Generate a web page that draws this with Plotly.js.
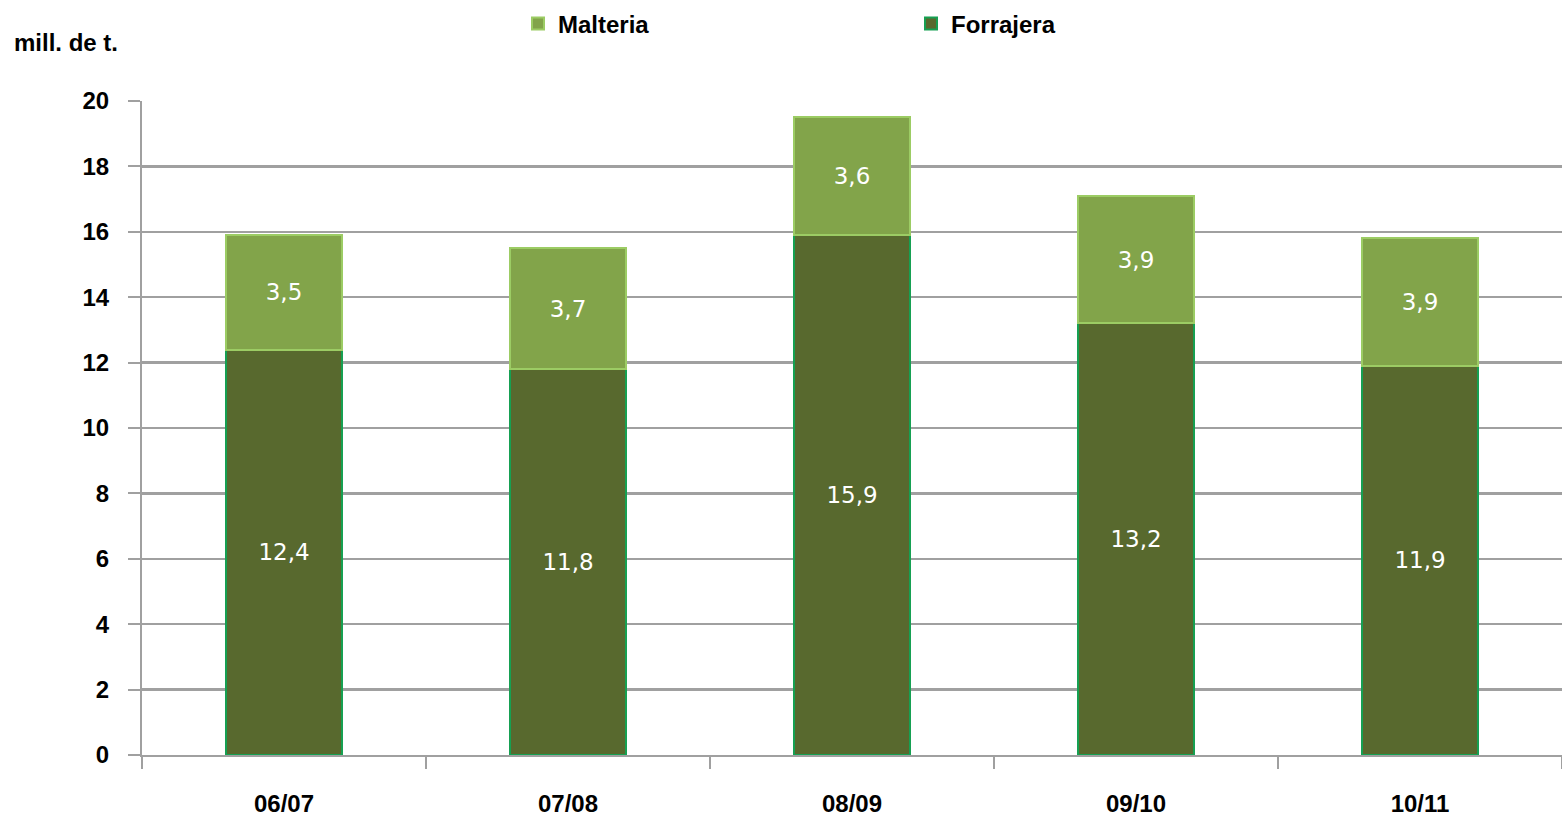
<!DOCTYPE html>
<html>
<head>
<meta charset="utf-8">
<script src="https://cdn.plot.ly/plotly-3.0.1.min.js"></script>
<style>html,body{margin:0;padding:0;background:#fff;}#chart{width:1562px;height:824px;}</style>
</head>
<body>
<div id="chart"></div>
<script>
const categories = ["06/07", "07/08", "08/09", "09/10", "10/11"];
const forrajera = [12.4, 11.8, 15.9, 13.2, 11.9];
const malteria = [3.5, 3.7, 3.6, 3.9, 3.9];
const yTicks = [0, 2, 4, 6, 8, 10, 12, 14, 16, 18, 20];

const fmt = v => v.toFixed(1).replace('.', ',');
const labelFont = {family: "DejaVu Sans, Verdana, sans-serif", size: 23, color: "#ffffff"};
const boldFont = "Liberation Sans, Arial, sans-serif";

const traces = [
  {
    type: "bar", name: "Forrajera", x: categories, y: forrajera,
    text: forrajera.map(fmt), textposition: "inside", insidetextanchor: "middle", textangle: 0,
    textfont: labelFont,
    marker: {color: "#58692e", line: {color: "#16a052", width: 2}},
    width: 0.41, hoverinfo: "x+y+name"
  },
  {
    type: "bar", name: "Malteria", x: categories, y: malteria,
    text: malteria.map(fmt), textposition: "inside", insidetextanchor: "middle", textangle: 0,
    textfont: labelFont,
    marker: {color: "#82a44a", line: {color: "#9ccc64", width: 2}},
    width: 0.41, hoverinfo: "x+y+name"
  }
];

const layout = {
  width: 1562, height: 824,
  margin: {l: 142, r: 0, t: 101, b: 69, autoexpand: false},
  paper_bgcolor: "#ffffff", plot_bgcolor: "#ffffff",
  barmode: "stack",
  showlegend: true,
  legend: {
    orientation: "h", traceorder: "reversed",
    xref: "container", yref: "container",
    x: 518/1562, xanchor: "left", y: 1 - 24/824, yanchor: "middle",
    font: {family: boldFont, size: 24, color: "#000", weight: "bold"},
    itemwidth: 30, entrywidth: 348, entrywidthmode: "pixels"
  },
  xaxis: {
    type: "category", range: [-0.5, 4.5],
    showgrid: false, zeroline: false,
    showline: true, linecolor: "#a0a0a0", linewidth: 2,
    ticks: "outside", tickson: "boundaries", ticklen: 12, tickcolor: "#a0a0a0", tickwidth: 2,
    tickfont: {family: boldFont, size: 24, color: "#000", weight: "bold"},
    ticklabelstandoff: 26
  },
  yaxis: {
    range: [0, 20], tickvals: yTicks, ticktext: yTicks.map(String),
    showgrid: true, gridcolor: "#a0a0a0", gridwidth: 2.5,
    zeroline: false,
    showline: true, linecolor: "#a0a0a0", linewidth: 2,
    ticks: "outside", ticklen: 12, tickcolor: "#a0a0a0", tickwidth: 2,
    tickfont: {family: boldFont, size: 24, color: "#000", weight: "bold"},
    ticklabelstandoff: 14
  },
  annotations: [
    {
      text: "mill. de t.", xref: "paper", yref: "paper",
      x: -130/1420, xanchor: "left", y: 1 + (101-42)/654, yanchor: "middle",
      showarrow: false, font: {family: boldFont, size: 24, color: "#000", weight: "bold"}
    }
  ]
};

Plotly.newPlot("chart", traces, layout, {displayModeBar: false, staticPlot: true});
</script>
</body>
</html>
